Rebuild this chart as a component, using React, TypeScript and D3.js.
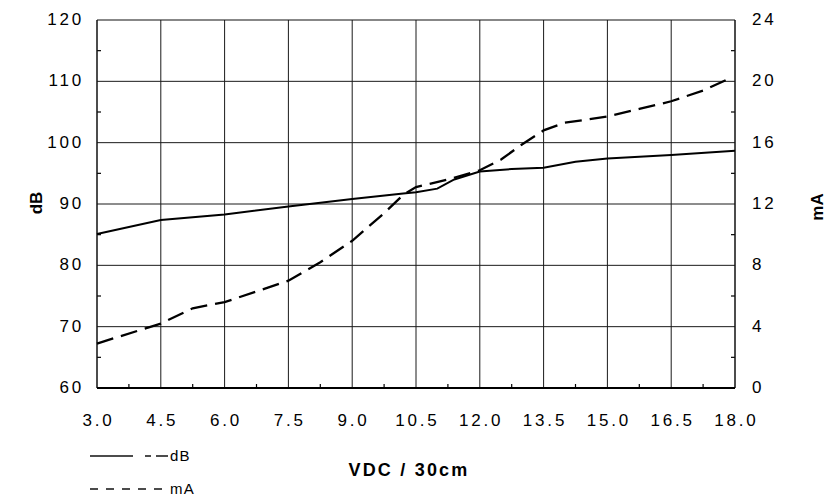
import React from "react";
import * as d3 from "d3";

const xTicks = [3.0, 4.5, 6.0, 7.5, 9.0, 10.5, 12.0, 13.5, 15.0, 16.5, 18.0];
const xMinor = [3.75, 5.25, 6.75, 8.25, 9.75, 11.25, 12.75, 14.25, 15.75, 17.25];
const dbTicks = [60, 70, 80, 90, 100, 110, 120];
const dbMinor = [65, 75, 85, 95, 105, 115];
const maTicks = [0, 4, 8, 12, 16, 20, 24];
const maMinor = [2, 6, 10, 14, 18, 22];

const dbX = [3.0, 4.5, 6.0, 7.5, 9.0, 10.2, 10.5, 11.0, 11.4, 12.0, 12.75, 13.5, 14.25, 15.0, 16.5, 18.0];
const dbY = [85.1, 87.4, 88.3, 89.6, 90.8, 91.7, 91.9, 92.5, 94.0, 95.3, 95.7, 95.9, 96.9, 97.4, 98.0, 98.7];

const maX = [3.0, 4.5, 5.25, 6.0, 6.75, 7.5, 8.25, 9.0, 9.75, 10.2, 10.5, 11.25, 12.0, 12.5, 13.0, 13.5, 14.0, 14.5, 15.0, 15.75, 16.5, 17.25, 17.8];
const maY = [2.9, 4.2, 5.2, 5.6, 6.3, 7.0, 8.2, 9.6, 11.4, 12.6, 13.1, 13.6, 14.2, 14.9, 15.9, 16.8, 17.3, 17.5, 17.7, 18.2, 18.7, 19.4, 20.1];

const FONT = "'Liberation Sans', Arial, sans-serif";

export default function App() {
  const L = 97, R = 735, T = 20, B = 388;
  const x = d3.scaleLinear().domain([3, 18]).range([L, R]);
  const yDb = d3.scaleLinear().domain([60, 120]).range([B, T]);
  const yMa = d3.scaleLinear().domain([0, 24]).range([B, T]);

  const lineDb = d3.line<number>().x((_, i) => x(dbX[i])).y((d) => yDb(d));
  const lineMa = d3.line<number>().x((_, i) => x(maX[i])).y((d) => yMa(d));

  const fmtX = d3.format(".1f");

  return (
    <svg width={826} height={496} style={{ position: "absolute", left: 0, top: 0, background: "#fff" }}>
      <rect x={0} y={0} width={826} height={496} fill="#fff" />
      {/* grid */}
      <g stroke="#1a1a1a" strokeWidth={1}>
        {xTicks.slice(1, -1).map((t) => (
          <line key={"gx" + t} x1={x(t)} x2={x(t)} y1={T} y2={B} />
        ))}
        {dbTicks.slice(1, -1).map((t) => (
          <line key={"gy" + t} x1={L} x2={R} y1={yDb(t)} y2={yDb(t)} />
        ))}
      </g>
      {/* minor ticks */}
      <g stroke="#000" strokeWidth={1.2}>
        {xMinor.map((t) => (
          <line key={"mx" + t} x1={x(t)} x2={x(t)} y1={B} y2={B - 4} />
        ))}
        {dbMinor.map((t) => (
          <line key={"ml" + t} x1={L} x2={L + 4} y1={yDb(t)} y2={yDb(t)} />
        ))}
        {maMinor.map((t) => (
          <line key={"mr" + t} x1={R} x2={R - 4} y1={yMa(t)} y2={yMa(t)} />
        ))}
      </g>
      {/* frame */}
      <line x1={L} x2={R} y1={T} y2={T} stroke="#111" strokeWidth={1.2} />
      <line x1={L} x2={L} y1={T} y2={B} stroke="#111" strokeWidth={1.5} />
      <line x1={R} x2={R} y1={T} y2={B} stroke="#111" strokeWidth={1.5} />
      <line x1={L} x2={R} y1={B} y2={B} stroke="#000" strokeWidth={2} />

      {/* series */}
      <path d={lineDb(dbY) || ""} fill="none" stroke="#000" strokeWidth={2} />
      <path d={lineMa(maY) || ""} fill="none" stroke="#000" strokeWidth={2.3} strokeDasharray="17,8" />

      {/* tick labels */}
      <g fontFamily={FONT} fontSize={17} fill="#000" letterSpacing={2.8}>
        {dbTicks.map((t) => (
          <text key={"tl" + t} x={84} y={yDb(t) + 5} textAnchor="end">{t}</text>
        ))}
        {maTicks.map((t) => (
          <text key={"tr" + t} x={752} y={yMa(t) + 5} textAnchor="start">{t}</text>
        ))}
        {xTicks.map((t) => (
          <text key={"tx" + t} x={x(t) + 1.4} y={426} textAnchor="middle">{fmtX(t)}</text>
        ))}
      </g>

      {/* axis titles */}
      <text x={0} y={0} transform="translate(42,203) rotate(-90)" textAnchor="middle" fontFamily={FONT} fontWeight="bold" fontSize={17} fill="#000">dB</text>
      <text x={0} y={0} transform="translate(823,207) rotate(-90)" textAnchor="middle" fontFamily={FONT} fontWeight="bold" fontSize={17} fill="#000">mA</text>
      <text x={409} y={476} textAnchor="middle" fontFamily={FONT} fontWeight="bold" fontSize={18} letterSpacing={2.2} fill="#000">VDC / 30cm</text>

      {/* legend */}
      <g stroke="#111" strokeWidth={1.5}>
        <line x1={90} x2={133} y1={456} y2={456} />
        <line x1={145} x2={151} y1={456} y2={456} />
        <line x1={156} x2={168} y1={456} y2={456} />
        <line x1={90} x2={168} y1={489} y2={489} strokeDasharray="8,8" />
      </g>
      <g fontFamily={FONT} fontSize={15} fill="#000" letterSpacing={1.2}>
        <text x={170} y={461}>dB</text>
        <text x={170} y={494}>mA</text>
      </g>
    </svg>
  );
}
